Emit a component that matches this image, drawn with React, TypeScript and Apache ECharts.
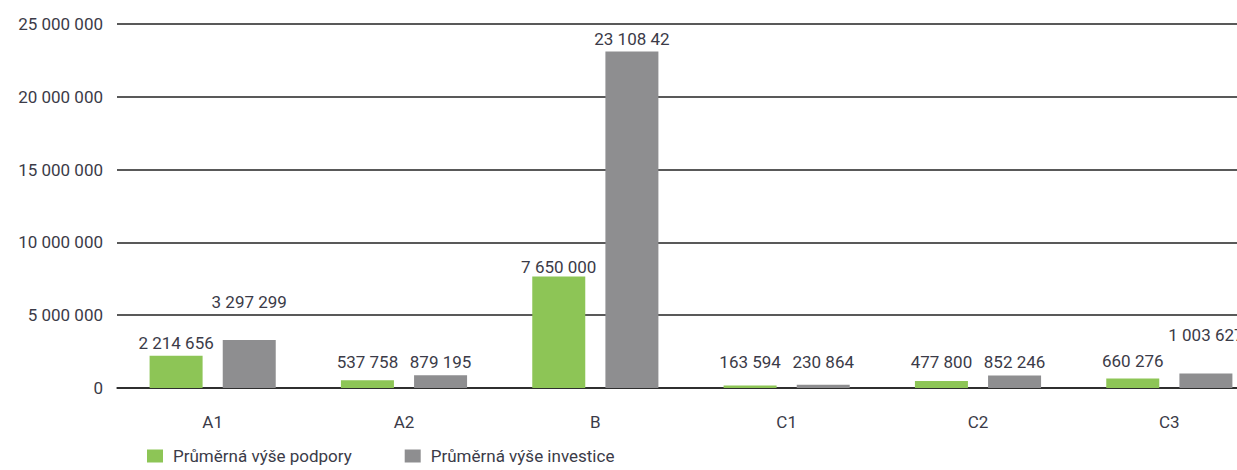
import React, { useEffect, useRef } from "react";
import * as echarts from "echarts";

const categories = ["A1", "A2", "B", "C1", "C2", "C3"];
const podpora = [2214656, 537758, 7650000, 163594, 477800, 660276];
const investice = [3297299, 879195, 23108420, 230864, 852246, 1003627];
const podporaLabels = ["2 214 656", "537 758", "7 650 000", "163 594", "477 800", "660 276"];
const investiceLabels = ["3 297 299", "879 195", "23 108 42", "230 864", "852 246", "1 003 627"];
const seriesNames = ["Průměrná výše podpory", "Průměrná výše investice"];
const yMin = 0;
const yMax = 25000000;
const yStep = 5000000;

// label vertical nudges (pixels) to mimic the hand-placed labels of the original
const podporaLabelShift = [0, -5, 3, -11, -6, -4];
const investiceLabelShift = [-25, 0, 0, -10, -1, -25];

const FONT = "Roboto, sans-serif";
const TEXT = "#3b3b48";
const FS = 17;

const fmt = (v: number) => String(Math.round(v)).replace(/\B(?=(\d{3})+(?!\d))/g, " ");

export default function App() {
  const ref = useRef<HTMLDivElement>(null);
  useEffect(() => {
    if (!ref.current) return;
    const chart = echarts.init(ref.current, null, { renderer: "svg" });
    const labelBase = {
      show: true,
      position: "top",
      distance: 4.5,
      color: TEXT,
      fontFamily: FONT,
      fontSize: FS,
    };
    chart.setOption({
      animation: false,
      textStyle: { fontFamily: FONT },
      grid: { left: 117, top: 24, width: 1148, height: 364 },
      legend: {
        left: 147,
        top: 447,
        padding: 0,
        icon: "rect",
        itemWidth: 16,
        itemHeight: 13,
        itemGap: 53,
        textStyle: { color: TEXT, fontFamily: FONT, fontSize: FS, lineHeight: 18, padding: [0, 0, 0, 5] },
        data: seriesNames,
      },
      xAxis: {
        type: "category",
        data: categories,
        axisLine: { show: true, lineStyle: { color: "#222", width: 1.5 } },
        axisTick: { show: false },
        axisLabel: { color: TEXT, fontFamily: FONT, fontSize: FS, margin: 25 },
      },
      yAxis: {
        type: "value",
        min: yMin,
        max: yMax,
        interval: yStep,
        axisLine: { show: false },
        axisTick: { show: false },
        splitLine: { show: true, lineStyle: { color: "#222", width: 1.5 } },
        axisLabel: {
          color: TEXT,
          fontFamily: FONT,
          fontSize: FS,
          margin: 14,
          formatter: (v: number) => fmt(v),
        },
      },
      series: [
        {
          name: seriesNames[0],
          type: "bar",
          barWidth: 53,
          barGap: "38%",
          itemStyle: { color: "#8dc556" },
          data: podpora.map((v, i) => ({
            value: v,
            label: { ...labelBase, formatter: podporaLabels[i], offset: [0, podporaLabelShift[i]] },
          })),
        },
        {
          name: seriesNames[1],
          type: "bar",
          barWidth: 53,
          barGap: "38%",
          itemStyle: { color: "#8e8e90" },
          data: investice.map((v, i) => ({
            value: v,
            label: { ...labelBase, formatter: investiceLabels[i], offset: [0, investiceLabelShift[i]] },
          })),
        },
      ],
    });
    return () => chart.dispose();
  }, []);
  return (
    <div
      style={{
        position: "absolute",
        left: 0,
        top: 0,
        width: 1237,
        height: 470,
        overflow: "hidden",
        background: "#fff",
      }}
    >
      <div ref={ref} style={{ width: 1270, height: 470 }} />
    </div>
  );
}
